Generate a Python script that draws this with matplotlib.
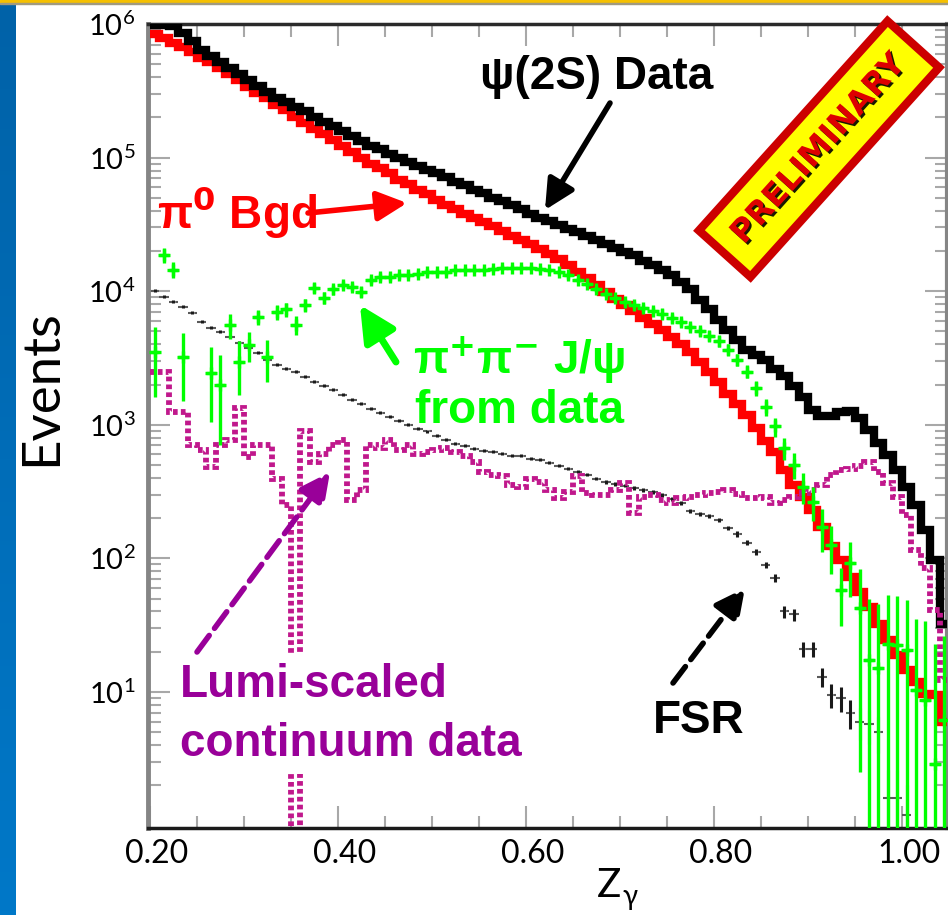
import numpy as np
import matplotlib
matplotlib.use('Agg')
import matplotlib.pyplot as plt
import matplotlib.patheffects as pe
from matplotlib.patches import Rectangle
from matplotlib.ticker import FixedLocator, LogLocator, LogFormatterMathtext, NullFormatter, FormatStrFormatter
from matplotlib.transforms import ScaledTranslation

# z_gamma histograms, 0.01 wide bins starting at 0.20
bin_lo = 0.20
bin_width = 0.01

psi2s_data = [9.9e5, 9.9e5, 9.6e5, 8.5e5, 7.4e5, 6.4e5, 5.8e5, 5.15e5, 4.65e5, 4.26e5,
              3.84e5, 3.46e5, 3.12e5, 2.81e5, 2.62e5, 2.41e5, 2.25e5, 2.03e5, 1.86e5, 1.71e5,
              1.57e5, 1.44e5, 1.32e5, 1.23e5, 1.15e5, 1.07e5, 1.0e5, 9.3e4, 8.7e4, 8.1e4,
              7.6e4, 7.1e4, 6.6e4, 6.2e4, 5.75e4, 5.4e4, 5.0e4, 4.7e4, 4.4e4, 4.1e4,
              3.8e4, 3.55e4, 3.37e4, 3.15e4, 2.94e4, 2.79e4, 2.6e4, 2.43e4, 2.27e4, 2.12e4,
              1.98e4, 1.85e4, 1.69e4, 1.58e4, 1.45e4, 1.31e4, 1.18e4, 1.03e4, 8.6e3, 7.3e3,
              6.1e3, 5.15e3, 4.3e3, 3.65e3, 3.3e3, 3.05e3, 2.6e3, 2.3e3, 1.96e3, 1.6e3,
              1.30e3, 1.17e3, 1.17e3, 1.25e3, 1.27e3, 1.13e3, 9.2e2, 7.3e2, 5.96e2, 4.6e2,
              3.43e2, 2.52e2, 1.63e2, 97, 32]

pi0_bgd = [8.35e5, 7.8e5, 7.15e5, 6.67e5, 6.2e5, 5.6e5, 5.15e5, 4.65e5, 4.19e5, 3.78e5,
           3.4e5, 3.07e5, 2.77e5, 2.49e5, 2.29e5, 2.03e5, 1.83e5, 1.65e5, 1.49e5, 1.36e5,
           1.23e5, 1.11e5, 1.0e5, 9.0e4, 8.3e4, 7.6e4, 6.8e4, 6.3e4, 5.75e4, 5.3e4,
           4.85e4, 4.45e4, 4.1e4, 3.8e4, 3.55e4, 3.3e4, 3.05e4, 2.84e4, 2.6e4, 2.43e4,
           2.27e4, 2.08e4, 1.91e4, 1.75e4, 1.58e4, 1.40e4, 1.26e4, 1.12e4, 9.9e3, 8.8e3,
           7.9e3, 7.15e3, 6.3e3, 5.7e3, 5.15e3, 4.56e3, 4.05e3, 3.52e3, 2.97e3, 2.5e3,
           2.1e3, 1.71e3, 1.44e3, 1.19e3, 9.5e2, 7.6e2, 6.3e2, 4.6e2, 3.55e2, 2.9e2,
           2.3e2, 1.72e2, 1.24e2, 97, 73, 56, 43, 32, 24.5, 19,
           14.6, 11.9, 9.7, 9.5, 6]

pipi_jpsi = [3.5e3, 1.87e4, 1.45e4, 3.2e3, np.nan, np.nan, 2.45e3, 2.0e3, 5.6e3, 2.97e3,
             3.97e3, 6.4e3, 3.2e3, 7.0e3, 7.3e3, 5.6e3, 7.9e3, 1.06e4, 8.9e3, 1.03e4,
             1.12e4, 1.08e4, 9.9e3, 1.22e4, 1.28e4, 1.28e4, 1.31e4, 1.33e4, 1.35e4, 1.38e4,
             1.38e4, 1.40e4, 1.43e4, 1.45e4, 1.45e4, 1.45e4, 1.47e4, 1.50e4, 1.50e4, 1.50e4,
             1.50e4, 1.47e4, 1.43e4, 1.38e4, 1.31e4, 1.22e4, 1.14e4, 1.04e4, 9.6e3, 8.9e3,
             8.3e3, 7.9e3, 7.5e3, 7.1e3, 6.8e3, 6.3e3, 5.9e3, 5.4e3, 5.0e3, 4.65e3,
             4.2e3, 3.65e3, 3.07e3, 2.5e3, 1.89e3, 1.36e3, 9.7e2, 6.7e2, 5.0e2, 3.43e2,
             2.65e2, 1.72e2, 1.26e2, 58, 92, 42.5, 17.4, 15.1, 23, 22.5,
             20.6, 10.4, 8.7, 2.9, 6.2]

pipi_jpsi_err = [1.9e3, 2.5e3, 2.0e3, 1.7e3, np.nan, np.nan, 1.4e3, 1.3e3, 1.2e3, 1.3e3,
                 1.0e3, 8e2, 1.1e3, 9e2, 9e2, 9e2, 9e2, 9e2, 9e2, 9e2,
                 8e2, 8e2, 8e2, 8e2, 8e2, 8e2, 8e2, 8e2, 8e2, 8e2,
                 8e2, 7e2, 7e2, 7e2, 7e2, 7e2, 7e2, 7e2, 7e2, 7e2,
                 7e2, 7e2, 7e2, 7e2, 7e2, 5e2, 5e2, 5e2, 5e2, 5e2,
                 5e2, 5e2, 5e2, 5e2, 5e2, 5e2, 4e2, 4e2, 4e2, 4e2,
                 4e2, 3.5e2, 3.2e2, 2.8e2, 2.4e2, 2e2, 1.6e2, 1.3e2, 1.1e2, 90,
                 75, 60, 50, 27, 41, 40, 32, 30, 30, 30,
                 28, 25, 25, 20, 20]

continuum = [2.5e3, 2.5e3, 1.25e3, 1.25e3, 7.1e2, 6.5e2, 4.8e2, 7.1e2, 7.7e2, 1.34e3,
             5.7e2, 7.1e2, 7.1e2, 3.9e2, 2.5e2, 0.5, 8.9e2, 5.3e2, 6.0e2, 7.1e2,
             7.7e2, 2.75e2, 3.26e2, 7.1e2, 6.7e2, 7.7e2, 6.5e2, 7.1e2, 6.0e2, 6.3e2,
             6.5e2, 6.7e2, 6.3e2, 5.8e2, 5.3e2, 4.4e2, 4.2e2, 4.1e2, 3.55e2, 3.43e2,
             3.9e2, 3.74e2, 3.26e2, 2.84e2, 3.15e2, 4.1e2, 3.1e2, 3.0e2, 3.0e2, 3.26e2,
             3.68e2, 2.2e2, 2.89e2, 3.0e2, 2.75e2, 2.6e2, 2.84e2, 2.89e2, 3.0e2, 3.1e2,
             3.15e2, 3.26e2, 3.04e2, 2.84e2, 2.84e2, 2.89e2, 2.6e2, 2.75e2, 2.89e2, 3.1e2,
             3.26e2, 3.55e2, 4.2e2, 4.6e2, 4.7e2, 4.9e2, 5.3e2, 4.4e2, 3.68e2, 2.89e2,
             2.1e2, 1.16e2, 85, 41, 12.3]

fsr = [1.01e4, 9.1e3, 8.35e3, 7.65e3, 6.9e3, 5.9e3, 5.33e3, 4.98e3, 4.56e3, 4.11e3,
       3.78e3, 3.46e3, 3.07e3, 2.81e3, 2.62e3, 2.49e3, 2.29e3, 2.10e3, 1.96e3, 1.83e3,
       1.68e3, 1.54e3, 1.44e3, 1.32e3, 1.23e3, 1.15e3, 1.07e3, 1.0e3, 9.3e2, 8.9e2,
       8.3e2, 7.7e2, 7.2e2, 6.97e2, 6.6e2, 6.4e2, 6.3e2, 6.07e2, 5.86e2, 5.86e2,
       5.56e2, 5.47e2, 5.19e2, 4.93e2, 4.68e2, 4.44e2, 4.22e2, 3.94e2, 3.74e2, 3.61e2,
       3.49e2, 3.37e2, 3.26e2, 3.15e2, 2.99e2, 2.79e2, 2.6e2, 2.27e2, 2.15e2, 2.08e2,
       1.94e2, 1.69e2, 1.52e2, 1.31e2, 1.12e2, 89, 71, 40, 38, 21,
       21, 13, 9.5, 9.0, 7.0, 6.0, 5.7, 5.0, 1.6, 1.6,
       1.2, np.nan, np.nan, np.nan, np.nan]

fsr_err = [250, 230, 210, 190, 170, 150, 135, 125, 115, 105,
           95, 87, 78, 71, 66, 63, 58, 53, 50, 46,
           43, 40, 37, 34, 32, 30, 28, 26, 24, 23,
           22, 20, 19, 18, 17, 17, 16, 16, 15, 15,
           15, 14, 14, 13, 13, 12, 12, 11, 11, 11,
           10, 10, 10, 10, 9, 9, 9, 8, 8, 8,
           8, 7, 7, 6, 6, 5, 5, 4, 4, 2.6,
           2.6, 2.2, 1.9, 1.9, 1.7, 1.6, 1.6, 1.5, 1.0, 1.0,
           0.8, np.nan, np.nan, np.nan, np.nan]

edges = bin_lo + bin_width * np.arange(len(psi2s_data) + 1)
centers = 0.5 * (edges[1:] + edges[:-1])

plt.rcParams['font.family'] = ['Lato', 'DejaVu Sans']

W, H = 948, 915
fig = plt.figure(figsize=(W / 100, H / 100), dpi=100)
fig.patch.set_facecolor('white')


def fx(x):
    return x / W


def fy(y):
    return 1 - y / H


# slide frame: blue strip on the left, gold rule on top
strip = fig.add_axes([0, 0, fx(15), fy(4)])
strip.imshow(np.linspace(0, 1, 256).reshape(-1, 1), aspect='auto',
             cmap=matplotlib.colors.LinearSegmentedColormap.from_list('strip', ['#0062a8', '#0078c8']))
strip.set_axis_off()
fig.patches.append(Rectangle((0, fy(3)), 1, 3 / H, transform=fig.transFigure, color='#f5c000', zorder=5))
fig.patches.append(Rectangle((0, fy(4)), 1, 1 / H, transform=fig.transFigure, color='#a09a80', zorder=5))

ax = fig.add_axes([fx(148), fy(828), fx(947) - fx(148), fy(24) - fy(828)])

fsr_bars = ax.errorbar(centers, fsr, xerr=bin_width / 2, yerr=fsr_err, fmt='none',
                       ecolor='#1a1a1a', elinewidth=2.2, capsize=0, zorder=2)
fsr_bars[2][0].set_linestyle((0, (2, 1)))
fsr_bars[2][0].set_color('#5a5a5a')
fsr_bars[2][0].set_linewidth(1.5)

ax.stairs(pi0_bgd, edges, baseline=None, color='#ff0000', lw=6, zorder=3)
ax.stairs(psi2s_data, edges, baseline=None, color='black', lw=6, zorder=4)
ax.stairs(continuum, edges, baseline=None, color='#c0188c', lw=4.2,
          linestyle=(0, (0.8, 0.55)), zorder=4.5)
ax.errorbar(centers, pipi_jpsi, xerr=bin_width / 2, yerr=pipi_jpsi_err, fmt='+', ms=8, mew=2.4,
            color='#00ff00', elinewidth=2.4, capsize=0, zorder=5)

ax.set_yscale('log')
ax.set_xlim(0.1979, 1.0479)
ax.set_ylim(0.957, 1.0e6)

ax.xaxis.set_major_locator(FixedLocator([0.2, 0.4, 0.6, 0.8, 1.0]))
ax.xaxis.set_minor_locator(FixedLocator(np.arange(0.2, 1.05, 0.05)))
ax.xaxis.set_major_formatter(FormatStrFormatter('%.2f'))
ax.yaxis.set_major_locator(FixedLocator([1e1, 1e2, 1e3, 1e4, 1e5, 1e6]))
ax.yaxis.set_major_formatter(LogFormatterMathtext())
ax.yaxis.set_minor_locator(LogLocator(base=10, subs=np.arange(2, 10)))
ax.yaxis.set_minor_formatter(NullFormatter())

ax.tick_params(which='both', direction='in', top=True, right=True, color='#a8a8a8', width=1.5)
ax.tick_params(which='major', length=16)
ax.tick_params(which='minor', length=9)
ax.tick_params(axis='x', labelsize=23, pad=8)
ax.tick_params(axis='y', labelsize=21, pad=9)

for side, col, w in [('left', '#858585', 3.5), ('top', '#2a2a2a', 2.5),
                     ('bottom', '#1a1a1a', 2.5), ('right', '#858585', 3.0)]:
    ax.spines[side].set_color(col)
    ax.spines[side].set_linewidth(w)

shift = ScaledTranslation(0.07, 0, fig.dpi_scale_trans)
for lab in ax.get_xticklabels():
    lab.set_transform(lab.get_transform() + shift)

fig.text(fx(42), fy(388), 'Events', rotation=90, fontsize=38, ha='center', va='center')
fig.text(fx(597), fy(897), 'Z', fontsize=29, ha='left', va='baseline')
fig.text(fx(622), fy(905), 'γ', fontsize=20, ha='left', va='baseline')

lab = dict(family=['Liberation Sans', 'DejaVu Sans'], fontweight='bold', fontsize=33,
           ha='left', va='baseline', zorder=10)
fig.text(fx(480), fy(89), 'ψ(2S) Data', color='black', **lab)
fig.text(fx(157), fy(228), r'π$^{\mathbf{0}}$ Bgd', color='#ff0000', **lab)
fig.text(fx(413), fy(374), r'π$^{\mathbf{+}}$π$^{\mathbf{-}}$ J/ψ', color='#00ff00', **lab)
fig.text(fx(415), fy(423), 'from data', color='#00ff00', **lab)
fig.text(fx(180), fy(697), 'Lumi-scaled', color='#990099',
         bbox=dict(fc='white', ec='none', pad=6), **lab)
fig.text(fx(180), fy(756), 'continuum data', color='#990099',
         bbox=dict(fc='white', ec='none', pad=6), **lab)
fig.text(fx(653), fy(733), 'FSR', color='black', **lab)


def arrow(tail, tip, color, dashed=False, lw=4, scale=20):
    ax.annotate('', xy=(fx(tip[0]), fy(tip[1])), xytext=(fx(tail[0]), fy(tail[1])),
                xycoords='figure fraction', textcoords='figure fraction', zorder=9,
                arrowprops=dict(arrowstyle='-|>,head_length=0.9,head_width=0.45', lw=lw,
                                color=color, linestyle='--' if dashed else '-',
                                shrinkA=0, shrinkB=0, mutation_scale=scale))


arrow((610, 103), (545, 210), 'black')
arrow((308, 213), (407, 203), '#ff0000')
arrow((396, 362), (360, 305), '#00ff00', lw=5, scale=24)
arrow((197, 652), (330, 472), '#990099', dashed=True)
arrow((673, 683), (745, 588), 'black', dashed=True)

fig.text(fx(819), fy(149), 'PRELIMINARY', rotation=48, rotation_mode='anchor',
         ha='center', va='center', fontsize=23, fontweight='bold', color='#dd0000',
         family='DejaVu Sans', zorder=11,
         bbox=dict(boxstyle='square,pad=0.6', fc='#ffff00', ec='#cc0000', lw=6),
         path_effects=[pe.withSimplePatchShadow(offset=(1.5, -1.5), shadow_rgbFace='black', alpha=0.9)])

fig.savefig('out.png', dpi=100, facecolor='white')
